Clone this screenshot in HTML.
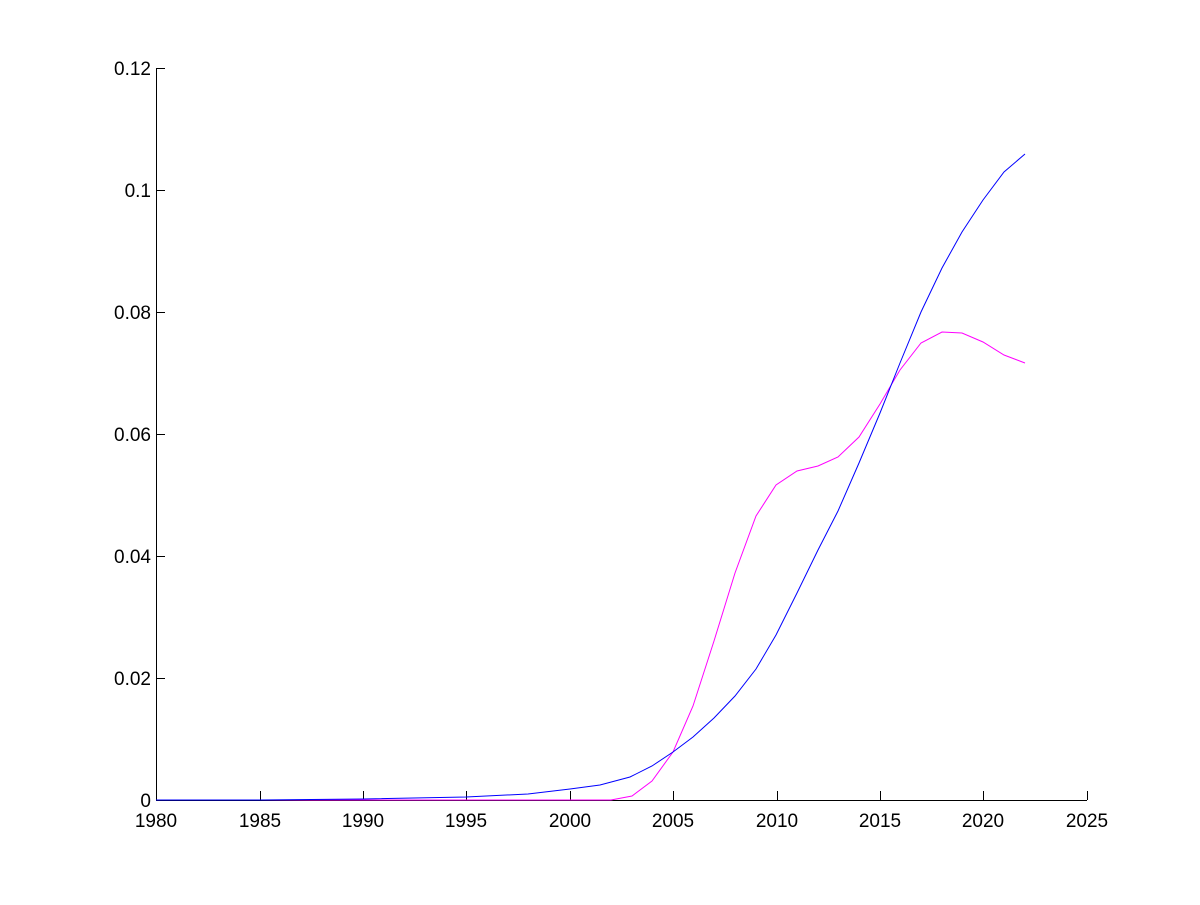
<!DOCTYPE html>
<html><head><style>body{margin:0;background:#fff}</style></head><body>
<svg width="1200" height="900" xmlns="http://www.w3.org/2000/svg" font-family="Liberation Sans, sans-serif" font-size="19">
<rect width="1200" height="900" fill="#fff"/>
<g stroke="#000" stroke-width="1" fill="none">
<line x1="156.5" y1="68" x2="156.5" y2="800.5"/>
<line x1="156" y1="800.5" x2="1087" y2="800.5"/>
<path d="M260.5 800v-9M363.5 800v-9M466.5 800v-9M570.5 800v-9M673.5 800v-9M777.5 800v-9M880.5 800v-9M983.5 800v-9M1087.5 800v-9"/>
<path d="M156 68.5h9M156 190.5h9M156 312.5h9M156 434.5h9M156 556.5h9M156 678.5h9"/>
</g>
<g text-anchor="end">
<text x="151" y="807">0</text>
<text x="151" y="685">0.02</text>
<text x="151" y="563">0.04</text>
<text x="151" y="441">0.06</text>
<text x="151" y="319">0.08</text>
<text x="151" y="197">0.1</text>
<text x="151" y="75">0.12</text>
</g>
<g text-anchor="middle">
<text x="156" y="827">1980</text><text x="260" y="827">1985</text><text x="363" y="827">1990</text>
<text x="466" y="827">1995</text><text x="570" y="827">2000</text><text x="673" y="827">2005</text>
<text x="777" y="827">2010</text><text x="880" y="827">2015</text><text x="983" y="827">2020</text>
<text x="1087" y="827">2025</text>
</g>
<polyline fill="none" stroke="#f0f" stroke-width="1" points="156,800 611,800 632,796 652,781 673,752 693,706 714,641 735,573 756,516 776,485 797,471 818,466 838,457 859,437 880,404 900,370 921,343 942,332 962,333 983,342 1004,355 1025,363"/>
<polyline fill="none" stroke="#00f" stroke-width="1" points="156,800 260,800 363,799 466,797 528,794 570,789 600,785 630,777 652,766 673,752 693,737 714,718 735,696 756,669 776,635 797,593 818,550 838,511 859,463 880,413 900,363 921,312 942,268 962,232 983,200 1004,172 1025,154"/>
</svg>
</body></html>
